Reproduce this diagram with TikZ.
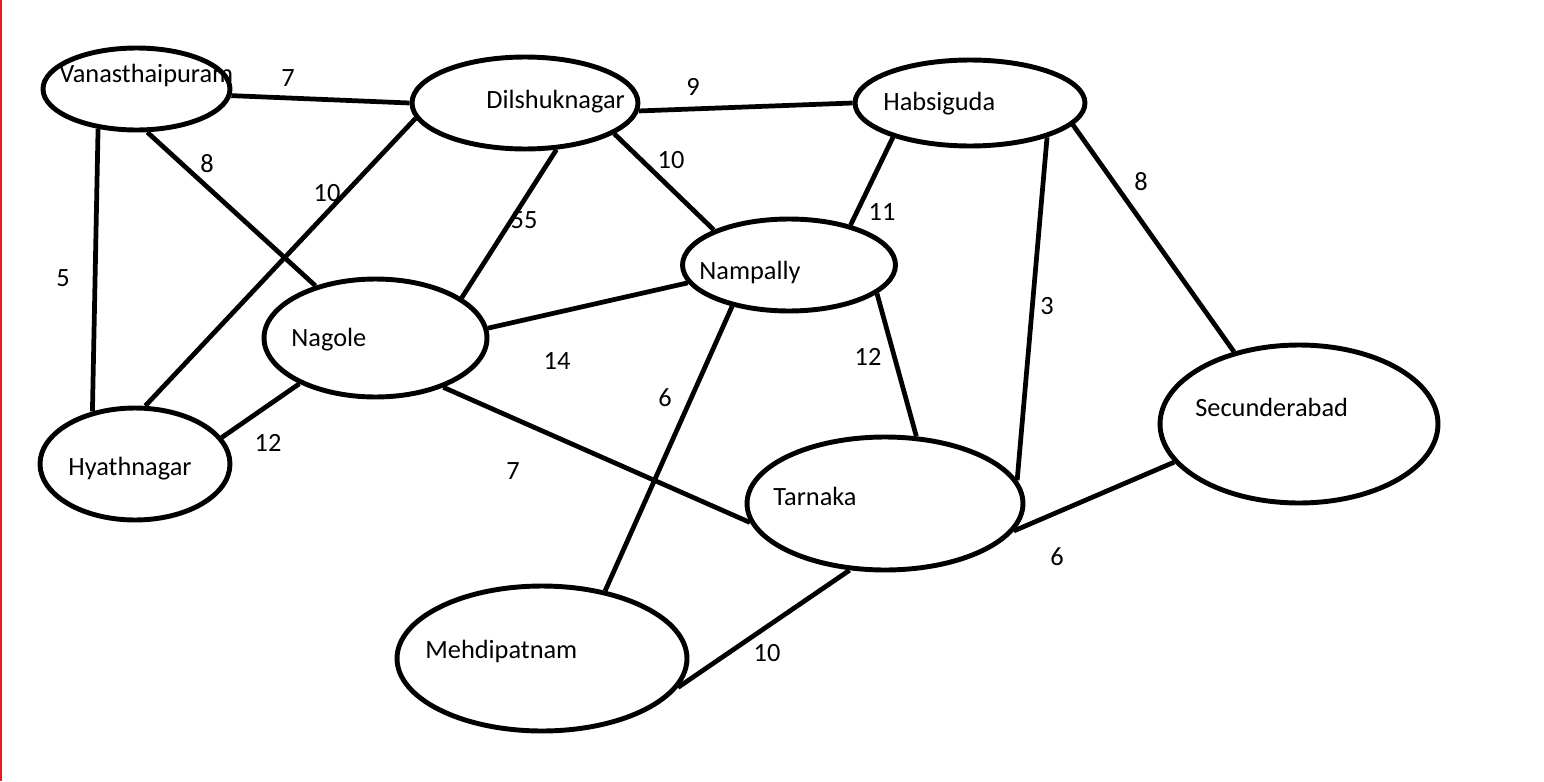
\documentclass[tikz,border=0pt]{standalone}
\usepackage{fontspec}
\setmainfont{Carlito}
\usetikzlibrary{shapes.geometric}
\definecolor{myred}{RGB}{237,28,36}

\tikzset{
    station/.style={draw, ellipse, line width=2.8pt, inner sep=0pt},
    road/.style={line width=2.7pt},
    placename/.style={anchor=base west, inner sep=0pt, font=\fontsize{15}{17}\selectfont},
    weight/.style={inner sep=0pt, font=\fontsize{15}{17}\selectfont},
}

\begin{document}
\begin{tikzpicture}[x=0.02cm, y=-0.02cm]
    \useasboundingbox (0, 0) rectangle (1544, 781);
    % Red margin line on the left
    \fill[myred] (0, 0) rectangle (2, 781);

    % --- Stations (ellipses)
    \node[station, minimum width=3.74cm, minimum height=1.64cm] (van) at (136.5, 89) {};
    \node[station, minimum width=4.52cm, minimum height=1.84cm] (dil) at (525, 103) {};
    \node[station, minimum width=4.60cm, minimum height=1.72cm] (hab) at (970, 103) {};
    \node[station, minimum width=4.26cm, minimum height=1.84cm] (nam) at (789, 265) {};
    \node[station, minimum width=4.46cm, minimum height=2.36cm] (nag) at (375.5, 338) {};
    \node[station, minimum width=3.80cm, minimum height=2.24cm] (hya) at (135, 464) {};
    \node[station, minimum width=5.52cm, minimum height=2.66cm] (tar) at (885, 503.5) {};
    \node[station, minimum width=5.56cm, minimum height=3.16cm] (sec) at (1299, 424) {};
    \node[station, minimum width=5.80cm, minimum height=2.90cm] (meh) at (542, 658.5) {};

    % Station names
    \node[placename] (van-t) at (59, 82) {Vanasthaipuram};
    \node[placename] (dil-t) at (486, 108) {Dilshuknagar};
    \node[placename] (hab-t) at (883, 110) {Habsiguda};
    \node[placename] (nam-t) at (699, 279) {Nampally};
    \node[placename] (nag-t) at (291, 346) {Nagole};
    \node[placename] (hya-t) at (68, 475) {Hyathnagar};
    \node[placename] (tar-t) at (773, 505) {Tarnaka};
    \node[placename] (sec-t) at (1195, 416) {Secunderabad};
    \node[placename] (meh-t) at (425, 658) {Mehdipatnam};

    % --- Roads
    \draw[road] (van.-4) -- (dil.180);
    \draw[road] (dil.-4) -- (hab.180);
    \draw[road] (van.-134) -- (hya.129);
    \draw[road] (van.-76) -- (nag.139);
    \draw[road] (dil.-172) -- (hya.80);
    \draw[road] (dil.-56) -- (nag.25);
    \draw[road] (dil.-19) -- (nam.155);
    \draw[road] (hab.-156) -- (nam.33);
    \draw[road] (hab.-24) -- (tar.10);
    \draw[road] (hab.-12) -- (sec.132);
    \draw[road] (nag.5) -- (nam.-170);
    \draw[road] (nag.-149) -- (hya.17);
    \draw[road] (nag.-36) -- (tar.-172);
    \draw[road] (nam.-144) -- (meh.47);
    \draw[road] (nam.-18) -- (tar.65);
    \draw[road] (tar.-12) -- (sec.-163);
    \draw[road] (tar.-118) -- (meh.-12);

    % Road weights
    \node[weight] (w-van-dil) at (288, 78) {7};
    \node[weight] (w-dil-hab) at (693, 87) {9};
    \node[weight] (w-van-hya) at (63, 278) {5};
    \node[weight] (w-van-nag) at (207, 164) {8};
    \node[weight] (w-dil-hya) at (327, 193) {10};
    \node[weight] (w-dil-nag) at (524, 220) {55};
    \node[weight] (w-dil-nam) at (671, 160) {10};
    \node[weight] (w-hab-nam) at (882, 212) {11};
    \node[weight] (w-hab-tar) at (1047, 306) {3};
    \node[weight] (w-hab-sec) at (1141, 182) {8};
    \node[weight] (w-nag-nam) at (557, 361) {14};
    \node[weight] (w-nag-hya) at (268, 443) {12};
    \node[weight] (w-nag-tar) at (513, 471) {7};
    \node[weight] (w-nam-meh) at (665, 398) {6};
    \node[weight] (w-nam-tar) at (868, 357) {12};
    \node[weight] (w-tar-sec) at (1057, 557) {6};
    \node[weight] (w-tar-meh) at (767, 653) {10};
\end{tikzpicture}
\end{document}
